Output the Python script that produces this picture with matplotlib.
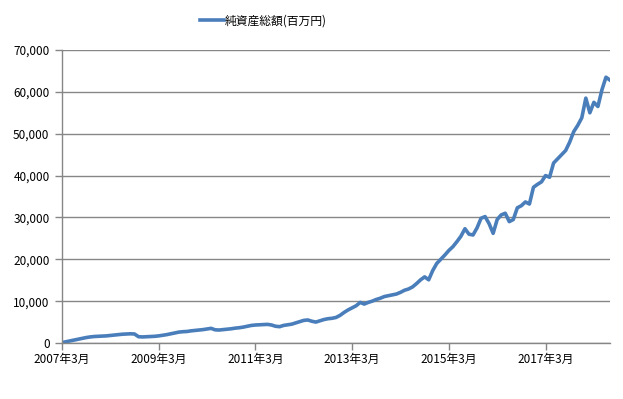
import matplotlib
matplotlib.use("Agg")
import matplotlib.pyplot as plt
from matplotlib.ticker import FuncFormatter

plt.rcParams['font.family'] = ['Noto Sans CJK JP', 'DejaVu Sans']

# 月次の純資産総額(百万円)、2007年3月から
start_year = 2007
net_assets = [
    100, 300, 500, 700, 900, 1100, 1300, 1450, 1550, 1600,
    1650, 1700, 1800, 1900, 2000, 2100, 2150, 2200, 2150, 1500,
    1450, 1500, 1550, 1600, 1700, 1850, 2000, 2200, 2400, 2600,
    2700, 2750, 2900, 3000, 3100, 3200, 3350, 3500, 3150, 3100,
    3200, 3300, 3400, 3550, 3650, 3800, 4000, 4200, 4300, 4350,
    4400, 4450, 4300, 4000, 3900, 4200, 4350, 4500, 4800, 5100,
    5400, 5500, 5200, 5000, 5300, 5600, 5800, 5900, 6100, 6600,
    7300, 7900, 8400, 8900, 9700, 9300, 9700, 10000, 10400, 10700,
    11100, 11300, 11500, 11700, 12100, 12600, 12900, 13400, 14200, 15100,
    15800, 15100, 17300, 19000, 20000, 21000, 22100, 23000, 24200, 25500,
    27300, 26000, 25800, 27500, 29800, 30200, 28500, 26200, 29500, 30600,
    31000, 29000, 29500, 32300, 32800, 33700, 33200, 37200, 37900, 38500,
    40000, 39600, 43000, 44000, 45000, 46000, 48000, 50500, 52000, 53800,
    58500, 55000, 57500, 56500, 60500, 63500, 62800,
]
legend_label = '純資産総額(百万円)'
tick_months = [0, 24, 48, 72, 96, 120]
tick_labels = [f'{start_year + m // 12}年3月' for m in tick_months]

fig = plt.figure(figsize=(6.23, 3.99), dpi=100)
ax = fig.add_axes([62 / 623, 1 - 343 / 399, (610 - 62) / 623, (343 - 50) / 399])

months = list(range(len(net_assets)))
line, = ax.plot(months, net_assets, color='#4A7EBB', linewidth=2.6,
                solid_joinstyle='round', label=legend_label)

ax.set_xlim(0, 136)
ax.set_ylim(0, 70000)
ax.set_yticks(range(0, 70001, 10000))
ax.yaxis.set_major_formatter(FuncFormatter(lambda v, p: f'{int(v):,}'))
ax.set_xticks(tick_months)
ax.set_xticklabels(tick_labels)

ax.grid(axis='y', color='#868686', linewidth=1.0)
ax.set_axisbelow(True)
for s in ['top', 'right']:
    ax.spines[s].set_visible(False)
for s in ['left', 'bottom']:
    ax.spines[s].set_color('#868686')
    ax.spines[s].set_linewidth(1.0)
ax.tick_params(axis='both', colors='#868686', labelcolor='black',
               labelsize=8.5, length=5, width=1.0)
ax.tick_params(axis='y', pad=4)
ax.tick_params(axis='x', pad=2)

fig.legend(handles=[line], loc='upper center', bbox_to_anchor=(0.423, 0.99),
           frameon=False, fontsize=8.5, handlelength=2.0, handletextpad=0.1)

fig.savefig('out.png', dpi=100)
